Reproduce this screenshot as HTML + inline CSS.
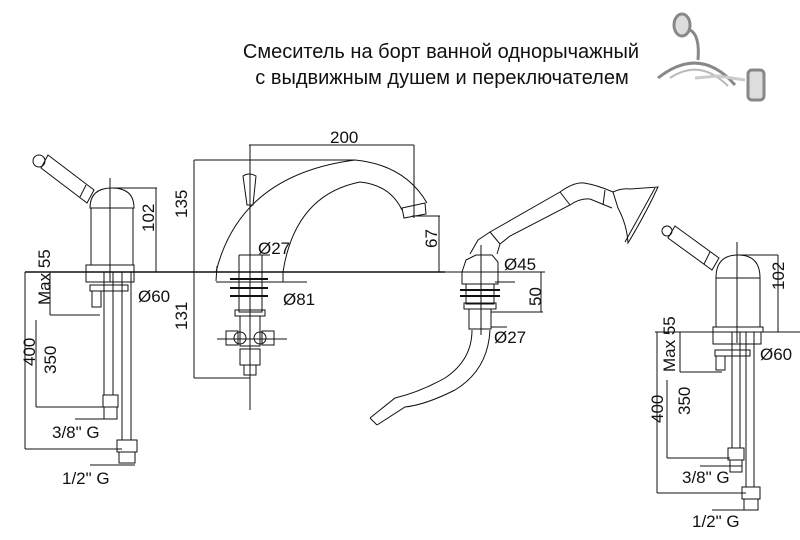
<!DOCTYPE html>
<html><head><meta charset="utf-8"><style>
html,body{margin:0;padding:0;background:#fff;width:800px;height:540px;overflow:hidden}
svg{display:block}
text{font-family:"Liberation Sans","DejaVu Sans",sans-serif;fill:#111}
</style></head><body>
<svg width="800" height="540" viewBox="0 0 800 540" xmlns="http://www.w3.org/2000/svg">
<text x="441" y="58" font-size="20" text-anchor="middle">Смеситель на борт ванной однорычажный</text>
<text x="442" y="84" font-size="20" text-anchor="middle">с выдвижным душем и переключателем</text>
<g fill="none" stroke="#888" stroke-width="3">
<path d="M658 78 Q700 45 735 85"/>
<path d="M670 78 Q700 58 728 86" stroke-width="2" stroke="#bbb"/>
<rect x="748" y="70" width="16" height="30" rx="4" fill="#ddd"/>
<ellipse cx="682" cy="25" rx="8" ry="11" fill="#ddd"/>
<path d="M690 30 Q700 35 698 60"/>
<path d="M695 78 L718 76 L745 80" stroke="#ccc"/>
</g>
<g stroke="#111" stroke-width="1" fill="none">
<line x1="25" y1="272" x2="445" y2="272" stroke-width="1.4"/>
<line x1="445" y1="272" x2="545" y2="272" stroke-width="1"/>
<line x1="655" y1="332" x2="800" y2="332"/>
<!-- left mixer -->
<line x1="110" y1="178" x2="110" y2="282"/>
<path d="M90 208 Q90 188 112 188 Q134 188 134 208 Z"/>
<rect x="91" y="208" width="42" height="57"/>
<rect x="86" y="265" width="48" height="7"/>
<path d="M48 155 L94 190 L87 203 L41 168 Z"/>
<circle cx="39" cy="161" r="6"/>
<line x1="86" y1="185" x2="80" y2="197"/>
<rect x="86" y="272" width="48" height="10"/>
<rect x="90" y="285" width="38" height="6"/>
<rect x="92" y="291" width="9" height="16"/>
<rect x="104" y="272" width="9" height="123"/>
<rect x="122" y="272" width="9" height="168"/>
<rect x="103" y="395" width="15" height="12"/>
<rect x="104" y="407" width="13" height="12"/>
<rect x="117" y="440" width="20" height="12"/>
<rect x="119" y="452" width="16" height="11"/>
<line x1="113" y1="188" x2="157" y2="188"/><line x1="156" y1="188" x2="156" y2="272"/>
<line x1="50" y1="272" x2="50" y2="315"/><line x1="50" y1="315" x2="100" y2="315"/>
<line x1="36" y1="320" x2="36" y2="407"/><line x1="36" y1="407" x2="105" y2="407"/>
<line x1="25" y1="272" x2="25" y2="449"/><line x1="25" y1="449" x2="122" y2="449"/>
<line x1="75" y1="419" x2="117" y2="419"/>
<line x1="90" y1="465" x2="135" y2="465"/>
<!-- spout -->
<line x1="250" y1="145" x2="250" y2="410"/>
<line x1="249" y1="145" x2="414" y2="145"/><line x1="414" y1="145" x2="414" y2="218"/>
<line x1="194" y1="160" x2="355" y2="160"/><line x1="194" y1="160" x2="194" y2="378"/>
<line x1="194" y1="378" x2="250" y2="378"/>
<path d="M216 272 Q240 175 355 160 Q405 165 427 203"/>
<path d="M283 272 Q295 195 360 182 Q390 185 402 210"/>
<path d="M402 208 L425 203 L426 214 L404 218 Z"/>
<path d="M243 176 Q249 172 256 176 L253 205 L247 205 Z"/>
<line x1="412" y1="216" x2="440" y2="216"/><line x1="439" y1="216" x2="439" y2="272"/>
<line x1="239" y1="255" x2="270" y2="255"/><line x1="239" y1="255" x2="239" y2="272"/><line x1="262" y1="255" x2="262" y2="272"/>
<line x1="217" y1="266" x2="216" y2="281"/><line x1="216" y1="282" x2="307" y2="282"/><line x1="283" y1="272" x2="283" y2="282"/>
<rect x="239" y="272" width="23" height="40"/>
<line x1="230" y1="279" x2="268" y2="279" stroke-width="2"/>
<line x1="230" y1="288" x2="268" y2="288" stroke-width="2"/>
<line x1="230" y1="296" x2="268" y2="296" stroke-width="2"/>
<rect x="235" y="310" width="30" height="6"/>
<rect x="240" y="316" width="20" height="30"/>
<rect x="226" y="331" width="12" height="14"/>
<rect x="262" y="331" width="12" height="14"/>
<circle cx="240" cy="338" r="6"/><circle cx="260" cy="338" r="6"/>
<line x1="217" y1="339" x2="287" y2="339"/>
<rect x="240" y="349" width="20" height="16"/>
<rect x="244" y="365" width="12" height="10"/>
<!-- shower -->
<line x1="481" y1="245" x2="481" y2="335"/>
<path d="M462 272 L466 260 L476 255 L492 255 L498 262 L498 272 Z"/>
<rect x="462" y="272" width="36" height="12"/>
<rect x="466" y="284" width="28" height="20"/>
<line x1="460" y1="290" x2="500" y2="290" stroke-width="2"/>
<line x1="460" y1="296" x2="500" y2="296" stroke-width="2"/>
<rect x="464" y="303" width="32" height="6"/>
<rect x="469" y="309" width="22" height="20"/>
<line x1="498" y1="272" x2="545" y2="272"/><line x1="541" y1="272" x2="541" y2="312"/>
<line x1="491" y1="312" x2="543" y2="312"/>
<line x1="491" y1="327" x2="507" y2="327"/>
<line x1="495" y1="282" x2="515" y2="282"/>
<path d="M470 254 L478 240 L490 232 L560 192 Q574 182 584 183 Q597 185 613 192"/>
<path d="M497 254 L500 244 L510 236 L570 205 Q580 198 590 199 L612 208"/>
<line x1="490" y1="232" x2="500" y2="244"/>
<line x1="560" y1="192" x2="570" y2="205"/>
<line x1="605" y1="190" x2="603" y2="205"/>
<path d="M613 192 Q622 188 630 189 L658 187 Q645 215 628 243 Q627 225 618 208 Z"/>
<line x1="655" y1="188" x2="625" y2="242"/>
<path d="M472 330 Q472 360 445 378 Q420 392 395 398 L370 418"/>
<path d="M490 330 Q488 370 455 390 Q425 405 405 407 L377 425"/>
<path d="M370 418 L377 425"/>
<!-- right mixer -->
<line x1="737" y1="242" x2="737" y2="343"/>
<path d="M716 278 Q716 255 738 255 Q760 255 760 278 Z"/>
<rect x="716" y="278" width="44" height="49"/>
<rect x="713" y="327" width="50" height="5"/>
<path d="M675 226 L719 258 L712 270 L668 238 Z"/>
<circle cx="667" cy="231" r="5"/>
<line x1="710" y1="252" x2="704" y2="264"/>
<line x1="738" y1="255" x2="778" y2="255"/><line x1="778" y1="255" x2="778" y2="332"/>
<rect x="713" y="332" width="48" height="12"/>
<rect x="715" y="350" width="35" height="6"/>
<rect x="716" y="356" width="9" height="14"/>
<rect x="732" y="332" width="8" height="116"/>
<rect x="746" y="332" width="8" height="155"/>
<rect x="728" y="448" width="16" height="12"/>
<rect x="730" y="460" width="12" height="12"/>
<rect x="742" y="487" width="18" height="12"/>
<rect x="744" y="499" width="14" height="11"/>
<line x1="680" y1="332" x2="680" y2="372"/><line x1="680" y1="372" x2="722" y2="372"/>
<line x1="667" y1="380" x2="667" y2="458"/><line x1="667" y1="458" x2="730" y2="458"/>
<line x1="657" y1="332" x2="657" y2="493"/><line x1="657" y1="493" x2="746" y2="493"/>
<line x1="700" y1="466" x2="742" y2="466"/>
<line x1="712" y1="510" x2="758" y2="510"/>
</g>
<g font-size="17">
<text x="330" y="143">200</text>
<text transform="translate(154 232) rotate(-90)">102</text>
<text transform="translate(187 218) rotate(-90)">135</text>
<text transform="translate(187 330) rotate(-90)">131</text>
<text transform="translate(50 305) rotate(-90)">Max 55</text>
<text transform="translate(35 366) rotate(-90)">400</text>
<text transform="translate(56 374) rotate(-90)">350</text>
<text x="138" y="302">Ø60</text>
<text x="258" y="254">Ø27</text>
<text x="283" y="305">Ø81</text>
<text transform="translate(437 248) rotate(-90)">67</text>
<text x="504" y="270">Ø45</text>
<text transform="translate(541 306) rotate(-90)">50</text>
<text x="494" y="343">Ø27</text>
<text x="52" y="438">3/8" G</text>
<text x="62" y="484">1/2" G</text>
<text transform="translate(784 290) rotate(-90)">102</text>
<text transform="translate(675 372) rotate(-90)">Max 55</text>
<text transform="translate(663 423) rotate(-90)">400</text>
<text transform="translate(690 415) rotate(-90)">350</text>
<text x="760" y="360">Ø60</text>
<text x="682" y="483">3/8" G</text>
<text x="692" y="527">1/2" G</text>
</g>
</svg>
</body></html>
